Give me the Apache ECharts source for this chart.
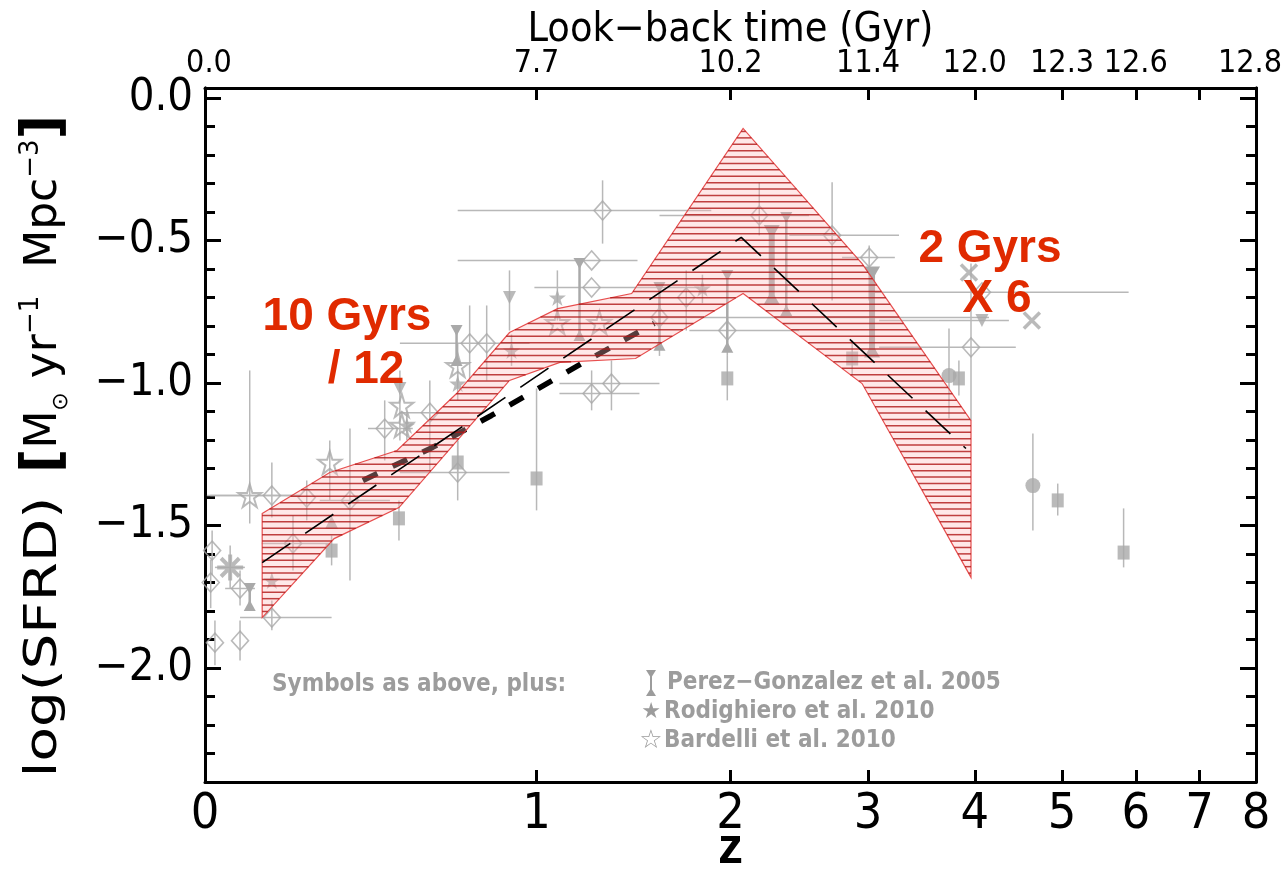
<!DOCTYPE html>
<html>
<head>
<meta charset="utf-8">
<script src="https://cdn.jsdelivr.net/npm/echarts@6/dist/echarts.min.js"></script>
<style>
  html, body { margin: 0; padding: 0; background: #fff; }
  #chart { width: 1284px; height: 873px; }
</style>
</head>
<body>
<div id="chart"></div>
<script>
// ---- axis ticks -------------------------------------------------------
const zTicks = [0, 1, 2, 3, 4, 5, 6, 7, 8];
const zInnerTicks = [1, 2, 3, 4, 5, 6, 7];
const lookbackZ = [0, 1, 2, 3, 4, 5, 6, 8];
const lookbackLabels = ['0.0', '7.7', '10.2', '11.4', '12.0', '12.3', '12.6', '12.8'];
const yMajor = [0, -0.5, -1.0, -1.5, -2.0];

// ---- model band: [z, log SFRD] ----------------------------------------
const bandUpper = [[0.127, -1.458], [0.298, -1.314], [0.494, -1.237], [0.692, -1.037], [0.890, -0.823],
                   [1.090, -0.739], [1.440, -0.686], [2.080, -0.107], [2.950, -0.581], [3.960, -1.132]];
const bandLower = [[0.127, -1.823], [0.310, -1.546], [0.500, -1.437], [0.780, -1.107], [0.890, -0.991],
                   [1.100, -0.928], [1.460, -0.914], [2.080, -0.686], [2.950, -1.002], [3.960, -1.682]];

// ---- fitted relations -------------------------------------------------
const fitThin = [[0.127, -1.630], [2.068, -0.489], [3.908, -1.230]];
const fitThick = [[0.391, -1.342], [0.609, -1.226], [0.820, -1.114], [1.197, -0.932], [1.558, -0.791]];

// ---- compiled measurements: [z, logSFRD, zLo, zHi, yLo, yHi] -----------
const openDiamonds = [
  [0.015, -1.588, null, null, -1.518, -1.675],
  [0.012, -1.700, null, null, -1.620, -1.790],
  [0.076, -1.721, 0.043, 0.110, -1.658, -1.781],
  [0.150, -1.823, 0.076, 0.303, -1.763, -1.868],
  [0.076, -1.904, null, null, -1.833, -1.974],
  [0.021, -1.911, null, null, -1.833, -1.990],
  [0.150, -1.395, 0.004, 0.219, -1.279, -1.472],
  [0.202, -1.563, 0.126, 0.298, -1.465, -1.658],
  [0.237, -1.402, null, null, -1.342, -1.482],
  [0.354, -1.412, 0.271, 0.472, -1.160, -1.693],
  [0.456, -1.160, 0.406, 0.544, -1.061, -1.272],
  [0.600, -1.104, 0.503, 0.739, -0.991, -1.307],
  [0.696, -1.314, 0.503, 0.890, -1.202, -1.412],
  [0.739, -0.861, null, null, -0.728, -0.991],
  [0.802, -0.861, 0.503, 0.971, -0.728, -0.991],
  [1.244, -0.570, 0.696, 1.470, null, null],
  [1.244, -0.665, 0.991, 1.811, null, null],
  [1.296, -0.395, 0.696, 1.882, -0.289, -0.511],
  [1.244, -1.037, 1.098, 1.480, -0.956, -1.096],
  [1.339, -1.002, 1.098, 1.586, -0.921, -1.096],
  [1.586, -0.770, 1.281, 4.150, -0.711, -0.905],
  [1.735, -0.700, null, null, -0.605, -0.816],
  [1.980, -0.816, 1.753, 2.463, -0.675, -0.905],
  [2.186, -0.412, 1.586, 2.535, -0.296, -0.482],
  [2.710, -0.482, 2.392, 3.267, -0.296, -0.711],
  [3.009, -0.560, 2.788, 3.230, -0.518, -0.711],
  [3.960, -0.875, 3.093, 4.447, -0.581, -1.132],
  [4.075, -0.682, 3.009, 5.896, null, null]
];
const filledSquares = [
  [0.303, -1.588, null, null, -1.535, -1.640],
  [0.500, -1.475, null, null, -1.412, -1.553],
  [0.696, -1.279, null, null, -1.202, -1.342],
  [1.000, -1.335, null, null, -1.019, -1.447],
  [1.980, -0.984, null, null, -0.905, -1.061],
  [2.869, -0.914, null, null, -0.851, -0.974],
  [3.836, -0.984, null, null, -0.921, -1.044],
  [4.946, -1.412, null, null, -1.353, -1.465],
  [5.824, -1.595, null, null, -1.440, -1.647]
];
const filledCircles = [
  [3.737, -0.974, null, null, -0.809, -1.125],
  [4.645, -1.360, null, null, -1.177, -1.518]
];
const downTriangles = [
  [0.503, -1.019, null, null, -0.956, -1.202],
  [0.890, -0.700, null, null, -0.605, -0.816],
  [4.075, -0.781, 3.093, 4.369, null, null]
];
const upTriangles = [
  [0.303, -1.489, null, null, null, null]
];
const filledStars = [
  [0.150, -1.693, null, null, null, null],
  [0.525, -1.149, null, null, -1.100, -1.200],
  [0.696, -1.002, null, null, -0.950, -1.060],
  [0.898, -0.886, null, null, -0.830, -0.940],
  [1.089, -0.700, null, null, -0.605, -0.781],
  [1.829, -0.668, null, null, -0.620, -0.720]
];
const openStars = [
  [0.098, -1.395, 0.011, 0.219, -0.956, -1.493],
  [0.298, -1.279, null, null, -1.202, -1.412],
  [0.509, -1.079, null, null, null, null],
  [0.509, -1.149, null, null, null, null],
  [0.696, -0.939, null, null, -0.860, -1.000],
  [1.089, -0.788, null, null, null, null],
  [1.281, -0.788, null, null, null, null]
];
const asterisks = [
  [0.054, -1.647, 0.021, 0.087, -1.570, -1.720]
];
const crosses = [
  [3.939, -0.612, null, null, null, null],
  [4.633, -0.781, null, null, null, null]
];
// Perez-Gonzalez bars: [z, top, bottom]
const perezBars = [
  [0.098, -1.721, -1.781],
  [0.692, -0.816, -0.921],
  [1.188, -0.581, -0.833],
  [1.586, -0.665, -0.868],
  [1.980, -0.623, -0.875],
  [2.371, -0.419, -0.746]
];
const perezThick = [
  [2.270, -0.470, -0.700],
  [3.033, -0.616, -0.886]
];

// ---- styling ----------------------------------------------------------
const GREY = '#a9a9a9';
const BAR = '#b8b8b8';
const RED = '#e02a00';
const FONT_Y = "'DejaVu Sans Condensed','DejaVu Sans',sans-serif";
const FONT_X = "'Liberation Sans Narrow','DejaVu Sans Condensed',sans-serif";
const STAR = 'path://M50,0L61,35L98,35L68,57L79,91L50,70L21,91L32,57L2,35L39,35Z';

const toX = z => Math.log10(1 + z);
const XMAX = Math.log10(9);

const yMinor = [];
for (let k = -23; k <= 0; k++) { if (k % 5 !== 0) yMinor.push(k / 10); }

const fmtY = v => Math.abs(v) < 1e-9 ? '0.0' : (v < 0 ? '\u2212' : '') + Math.abs(v).toFixed(1);
const zFromX = v => Math.round(Math.pow(10, v) - 1);

const allErr = [].concat(openDiamonds, filledSquares, filledCircles, downTriangles, upTriangles,
                         filledStars, openStars, asterisks, crosses);

function pts(arr) { return arr.map(r => [toX(r[0]), r[1]]); }

function scatter(arr, symbol, size, style, extra) {
  return Object.assign({
    type: 'scatter', xAxisIndex: 0, yAxisIndex: 0, z: 3, silent: true,
    symbol: symbol, symbolSize: size, data: pts(arr), itemStyle: style
  }, extra || {});
}

function lookbackFormatter(v) {
  const i = lookbackZ.indexOf(zFromX(v));
  if (i < 0) return '';
  if (i === 0) return '{first|' + lookbackLabels[i] + '}';
  if (i === lookbackLabels.length - 1) return '{last|' + lookbackLabels[i] + '}';
  return lookbackLabels[i];
}

const chart = echarts.init(document.getElementById('chart'), null, { renderer: 'canvas' });

const yAxisBase = (pos, labels, ticks, len) => ({
  type: 'value', min: -2.4, max: 0.035, position: pos,
  axisLine: { show: true, onZero: false, lineStyle: { color: '#000', width: 3 } },
  axisTick: { show: true, inside: true, length: len, customValues: ticks, lineStyle: { color: '#000', width: 3 } },
  axisLabel: labels ? { show: true, customValues: yMajor, formatter: fmtY, fontSize: 45,
                        fontFamily: FONT_Y, color: '#000', margin: 12 } : { show: false },
  splitLine: { show: false }
});

const TITLE_FONT = "'DejaVu Sans',sans-serif";

const option = {
  animation: false,
  backgroundColor: '#fff',
  grid: { left: 205, right: 28, top: 88, bottom: 91, containLabel: false, outerBoundsMode: 'none' },
  xAxis: [
    {
      type: 'value', min: 0, max: XMAX, position: 'bottom',
      name: 'z', nameLocation: 'middle', nameGap: 42, nameMoveOverlap: false,
      nameTextStyle: { fontSize: 50, fontWeight: 'bold', fontFamily: "'Liberation Sans',sans-serif", color: '#000' },
      axisLine: { show: true, onZero: false, lineStyle: { color: '#000', width: 3 } },
      axisTick: { show: true, inside: true, length: 12, customValues: zInnerTicks.map(toX), lineStyle: { color: '#000', width: 3 } },
      axisLabel: { show: true, customValues: zTicks.map(toX), formatter: v => String(zFromX(v)),
                   fontSize: 50, fontFamily: FONT_X, color: '#000', margin: 8, showMinLabel: true, showMaxLabel: true },
      splitLine: { show: false }
    },
    {
      type: 'value', min: 0, max: XMAX, position: 'top',
      name: 'Look\u2212back time (Gyr)', nameLocation: 'middle', nameGap: 37, nameMoveOverlap: false,
      nameTextStyle: { fontSize: 41, fontFamily: FONT_X, color: '#000' },
      axisLine: { show: true, onZero: false, lineStyle: { color: '#000', width: 3 } },
      axisTick: { show: true, inside: true, length: 12, customValues: zInnerTicks.map(toX), lineStyle: { color: '#000', width: 3 } },
      axisLabel: { show: true, customValues: lookbackZ.map(toX), formatter: lookbackFormatter,
                   fontSize: 32, fontFamily: FONT_X, color: '#000', margin: 8, showMinLabel: true, showMaxLabel: true,
                   rich: {
                     first: { fontSize: 32, fontFamily: FONT_X, color: '#000', padding: [0, 0, 0, 8] },
                     last: { fontSize: 32, fontFamily: FONT_X, color: '#000', padding: [0, 12, 0, 0] }
                   } },
      splitLine: { show: false }
    }
  ],
  yAxis: [
    yAxisBase('left', true, yMajor, 16),
    yAxisBase('right', false, yMajor, 16),
    yAxisBase('left', false, yMinor, 10),
    yAxisBase('right', false, yMinor, 10)
  ],
  graphic: [
    // vertical axis title, in two pieces
    {
      type: 'text', x: 45, y: 637, rotation: Math.PI / 2, scaleX: 1.28, silent: true,
      style: { text: 'log(SFRD)', align: 'center', verticalAlign: 'middle', fill: '#000',
               font: "44px " + TITLE_FONT }
    },
    {
      type: 'text', x: 45, y: 294, rotation: Math.PI / 2, silent: true,
      style: {
        text: '{b|[}{a|M}{s|\u2299}{a| yr}{p|\u22121}{a|  Mpc}{p|\u22123}{b|]}',
        align: 'center', verticalAlign: 'middle', fill: '#000',
        rich: {
          a: { fontSize: 44, fontFamily: TITLE_FONT, fill: '#000' },
          b: { fontSize: 54, fontWeight: 'bold', fontFamily: TITLE_FONT, fill: '#000' },
          s: { fontSize: 22, fontFamily: TITLE_FONT, fill: '#000', verticalAlign: 'bottom' },
          p: { fontSize: 26, fontFamily: TITLE_FONT, fill: '#000', verticalAlign: 'top' }
        }
      }
    },
    { type: 'text', x: 347, y: 317, silent: true, z: 100,
      style: { text: '10 Gyrs', align: 'center', verticalAlign: 'middle', fill: RED,
               font: "bold 46px 'Liberation Sans', Arial, sans-serif" } },
    { type: 'text', x: 366, y: 370, silent: true, z: 100,
      style: { text: '/ 12', align: 'center', verticalAlign: 'middle', fill: RED,
               font: "bold 46px 'Liberation Sans', Arial, sans-serif" } },
    { type: 'text', x: 990, y: 249, silent: true, z: 100,
      style: { text: '2 Gyrs', align: 'center', verticalAlign: 'middle', fill: RED,
               font: "bold 46px 'Liberation Sans', Arial, sans-serif" } },
    { type: 'text', x: 997, y: 299, silent: true, z: 100,
      style: { text: 'X 6', align: 'center', verticalAlign: 'middle', fill: RED,
               font: "bold 46px 'Liberation Sans', Arial, sans-serif" } },
    // in-plot key
    { type: 'text', x: 272, y: 685, silent: true,
      style: { text: 'Symbols as above, plus:', verticalAlign: 'middle', fill: '#9c9c9c',
               font: "bold 24px 'DejaVu Sans Condensed', sans-serif" } },
    { type: 'text', x: 667, y: 683, silent: true,
      style: { text: 'Perez\u2212Gonzalez et al. 2005', verticalAlign: 'middle', fill: '#9c9c9c',
               font: "bold 24px 'DejaVu Sans Condensed', sans-serif" } },
    { type: 'text', x: 664, y: 712, silent: true,
      style: { text: 'Rodighiero et al. 2010', verticalAlign: 'middle', fill: '#9c9c9c',
               font: "bold 24px 'DejaVu Sans Condensed', sans-serif" } },
    { type: 'text', x: 664, y: 741, silent: true,
      style: { text: 'Bardelli et al. 2010', verticalAlign: 'middle', fill: '#9c9c9c',
               font: "bold 24px 'DejaVu Sans Condensed', sans-serif" } },
    { type: 'group', silent: true, children: [
      { type: 'line', shape: { x1: 651, y1: 672, x2: 651, y2: 694 }, style: { stroke: '#9c9c9c', lineWidth: 2 } },
      { type: 'polygon', shape: { points: [[646, 670], [656, 670], [651, 678]] }, style: { fill: '#9c9c9c' } },
      { type: 'polygon', shape: { points: [[646, 696], [656, 696], [651, 688]] }, style: { fill: '#9c9c9c' } }
    ] },
    { type: 'text', x: 651, y: 712, silent: true,
      style: { text: '\u2605', align: 'center', verticalAlign: 'middle', fill: '#9c9c9c', font: "22px 'DejaVu Sans', sans-serif" } },
    { type: 'text', x: 651, y: 741, silent: true,
      style: { text: '\u2606', align: 'center', verticalAlign: 'middle', fill: '#9c9c9c', font: "26px 'DejaVu Sans', sans-serif" } }
  ],
  series: [
    // error bars of all compiled points
    {
      type: 'custom', xAxisIndex: 0, yAxisIndex: 0, z: 1, silent: true,
      data: pts(allErr),
      renderItem: (params, api) => {
        const r = allErr[params.dataIndex];
        const c = api.coord([toX(r[0]), r[1]]);
        const kids = [];
        if (r[2] !== null) {
          const a = api.coord([toX(r[2]), r[1]]), b = api.coord([toX(r[3]), r[1]]);
          kids.push({ type: 'line', shape: { x1: a[0], y1: c[1], x2: b[0], y2: c[1] }, style: { stroke: BAR, lineWidth: 1.5 } });
        }
        if (r[4] !== null) {
          const a = api.coord([toX(r[0]), r[4]]), b = api.coord([toX(r[0]), r[5]]);
          kids.push({ type: 'line', shape: { x1: c[0], y1: a[1], x2: c[0], y2: b[1] }, style: { stroke: BAR, lineWidth: 1.5 } });
        }
        return { type: 'group', children: kids };
      }
    },
    // Perez-Gonzalez I-bars
    {
      type: 'custom', xAxisIndex: 0, yAxisIndex: 0, z: 2, silent: true,
      data: perezBars.concat(perezThick).map(r => [toX(r[0]), r[1]]),
      renderItem: (params, api) => {
        const thick = params.dataIndex >= perezBars.length;
        const r = thick ? perezThick[params.dataIndex - perezBars.length] : perezBars[params.dataIndex];
        const t = api.coord([toX(r[0]), r[1]]), b = api.coord([toX(r[0]), r[2]]);
        const w = thick ? 8 : 6, h = thick ? 14 : 11;
        return { type: 'group', children: [
          { type: 'line', shape: { x1: t[0], y1: t[1], x2: b[0], y2: b[1] }, style: { stroke: GREY, lineWidth: thick ? 6 : 2.5 } },
          { type: 'polygon', shape: { points: [[t[0] - w, t[1] - h / 2], [t[0] + w, t[1] - h / 2], [t[0], t[1] + h / 2]] }, style: { fill: GREY } },
          { type: 'polygon', shape: { points: [[b[0] - w, b[1] + h / 2], [b[0] + w, b[1] + h / 2], [b[0], b[1] - h / 2]] }, style: { fill: GREY } }
        ] };
      }
    },
    scatter(openDiamonds, 'diamond', [17, 19], { color: 'rgba(255,255,255,0)', borderColor: GREY, borderWidth: 1.6 }),
    scatter(filledSquares, 'rect', [12, 14], { color: GREY }),
    scatter(filledCircles, 'circle', 15, { color: GREY }),
    scatter(downTriangles, 'triangle', 13, { color: GREY }, { symbolRotate: 180 }),
    scatter(upTriangles, 'triangle', 13, { color: GREY }),
    scatter(filledStars, STAR, 17, { color: GREY }),
    scatter(openStars, STAR, 23, { color: 'rgba(255,255,255,0)', borderColor: GREY, borderWidth: 2 }),
    scatter(asterisks, 'path://M0,10L20,10M10,0L10,20M3,3L17,17M17,3L3,17', 26, { color: 'rgba(0,0,0,0)', borderColor: GREY, borderWidth: 4 }),
    scatter(crosses, 'path://M0,0L10,10M10,0L0,10', 16, { color: 'rgba(0,0,0,0)', borderColor: GREY, borderWidth: 3.5 }),
    // thick dashed relation (under the band)
    {
      type: 'line', xAxisIndex: 0, yAxisIndex: 0, z: 4, silent: true, symbol: 'none',
      data: pts(fitThick),
      lineStyle: { color: '#000', width: 5.5, type: [16, 17] }
    },
    // hatched band
    {
      type: 'custom', xAxisIndex: 0, yAxisIndex: 0, z: 5, silent: true,
      data: [[0, -1]],
      renderItem: (params, api) => {
        const top = bandUpper.map(p => api.coord([toX(p[0]), p[1]]));
        const bot = bandLower.map(p => api.coord([toX(p[0]), p[1]]));
        const poly = top.concat(bot.slice().reverse());
        const kids = [{ type: 'polygon', shape: { points: poly },
                        style: { fill: 'rgba(255,185,185,0.33)', stroke: 'rgba(228,60,60,0.9)', lineWidth: 1.2 } }];
        const ys = poly.map(p => p[1]);
        const y0 = Math.min.apply(null, ys), y1 = Math.max.apply(null, ys);
        for (let y = y0 + 3; y < y1; y += 6.4) {
          const xs = [];
          for (let i = 0; i < poly.length; i++) {
            const a = poly[i], b = poly[(i + 1) % poly.length];
            if ((a[1] <= y && b[1] > y) || (b[1] <= y && a[1] > y)) {
              xs.push(a[0] + (y - a[1]) * (b[0] - a[0]) / (b[1] - a[1]));
            }
          }
          xs.sort((m, n) => m - n);
          for (let k = 0; k + 1 < xs.length; k += 2) {
            kids.push({ type: 'line', shape: { x1: xs[k], y1: y, x2: xs[k + 1], y2: y },
                        style: { stroke: 'rgba(175,20,20,0.8)', lineWidth: 1.5 } });
          }
        }
        return { type: 'group', children: kids };
      }
    },
    // thin dashed relation
    {
      type: 'line', xAxisIndex: 0, yAxisIndex: 0, z: 6, silent: true, symbol: 'none',
      data: pts(fitThin),
      lineStyle: { color: '#000', width: 1.6, type: [34, 18] }
    }
  ]
};

chart.setOption(option);
</script>
</body>
</html>
